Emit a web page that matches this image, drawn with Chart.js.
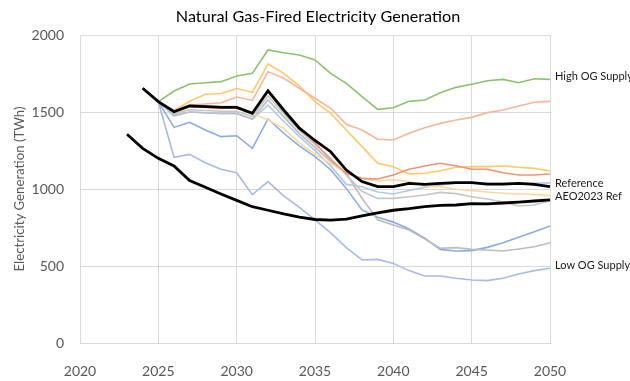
<!DOCTYPE html>
<html>
<head>
<meta charset="utf-8">
<script src="https://cdn.jsdelivr.net/npm/chart.js@4.4.1/dist/chart.umd.min.js"></script>
<style>
  html, body { margin: 0; padding: 0; background: #ffffff; }
  #wrap { width: 630px; height: 381px; }
</style>
</head>
<body>
<div id="wrap"><canvas id="c" width="630" height="381"></canvas></div>
<script>
// ---- Data (TWh) ----
const scenarioYears = [2024,2025,2026,2027,2028,2029,2030,2031,2032,2033,2034,2035,2036,2037,2038,2039,2040,2041,2042,2043,2044,2045,2046,2047,2048,2049,2050];
const aeoYears = [2023,2024,2025,2026,2027,2028,2029,2030,2031,2032,2033,2034,2035,2036,2037,2038,2039,2040,2041,2042,2043,2044,2045,2046,2047,2048,2049,2050];

const aeo2023Ref   = [1355,1264,1199,1150,1055,1011,968,926,885,862,838,818,802,798,805,825,845,862,872,885,894,896,905,903,909,915,922,930];
const reference    = [1654,1567,1502,1539,1535,1530,1530,1491,1638,1513,1395,1315,1242,1123,1048,1015,1015,1037,1030,1037,1041,1041,1032,1032,1037,1030,1015];
const highOGSupply = [1654,1567,1636,1682,1690,1697,1734,1751,1903,1885,1870,1838,1751,1686,1600,1517,1528,1569,1578,1625,1660,1680,1703,1712,1690,1716,1712];
const lowOGSupply  = [1654,1567,1206,1225,1171,1128,1106,963,1048,955,880,800,715,620,539,543,517,470,435,435,420,409,405,420,448,470,485];
const salmonCase   = [1654,1567,1513,1545,1552,1560,1597,1575,1762,1719,1654,1589,1524,1420,1383,1323,1318,1362,1398,1426,1448,1465,1496,1513,1539,1563,1569];
const yellowCase   = [1654,1567,1508,1570,1615,1620,1652,1627,1812,1751,1670,1567,1491,1383,1275,1167,1145,1098,1102,1119,1141,1145,1145,1149,1141,1134,1117];
const orangeCase   = [1654,1567,1505,1542,1540,1535,1535,1495,1636,1515,1400,1300,1190,1102,1069,1065,1091,1128,1149,1167,1151,1128,1128,1106,1091,1091,1097];
const paleCase     = [1654,1567,1500,1535,1530,1525,1525,1491,1448,1394,1300,1225,1165,1105,1069,1052,1060,1048,1019,1015,998,989,981,972,968,965,957];
const grayUpper    = [1654,1567,1490,1515,1510,1505,1505,1470,1604,1490,1380,1290,1200,1090,985,939,939,950,961,978,970,950,935,915,890,896,925];
const grayLower    = [1654,1567,1480,1500,1495,1490,1490,1455,1578,1470,1360,1270,1180,1100,940,800,766,734,676,615,619,608,604,597,610,625,651];
const lightBlue    = [1654,1567,1474,1500,1495,1491,1491,1452,1545,1440,1340,1250,1150,1030,1015,980,968,990,1011,1026,1037,1037,1037,1037,1037,1037,1040];
const mediumBlue   = [1654,1567,1400,1433,1383,1340,1346,1264,1455,1362,1280,1210,1125,1004,864,816,785,740,680,608,597,600,621,651,686,723,760];

const rightLabels = ["High OG Supply", "Reference", "AEO2023 Ref", "Low OG Supply"];
const titleText = "Natural Gas-Fired Electricity Generation";

function pts(xs, ys) { return ys.map((v, i) => ({ x: xs[i], y: v })); }

function ds(label, xs, ys, color, width) {
  return { label, data: pts(xs, ys), borderColor: color, backgroundColor: color,
           borderWidth: width, pointRadius: 0, tension: 0, fill: false };
}

// first dataset is drawn on top
const datasets = [
  ds("AEO2023 Ref", aeoYears, aeo2023Ref, "#000000", 2.8),
  ds("Reference", scenarioYears, reference, "#000000", 2.8),
  ds("Orange", scenarioYears, orangeCase, "#F19474", 1.6),
  ds("High OG Supply", scenarioYears, highOGSupply, "#8DC271", 1.6),
  ds("Salmon", scenarioYears, salmonCase, "#F5B79C", 1.6),
  ds("Yellow", scenarioYears, yellowCase, "#FFC96B", 1.6),
  ds("Pale", scenarioYears, paleCase, "#FDD8A0", 1.6),
  ds("GrayUpper", scenarioYears, grayUpper, "#C6C6C6", 1.6),
  ds("GrayLower", scenarioYears, grayLower, "#BDBDBD", 1.6),
  ds("LightBlue", scenarioYears, lightBlue, "#AFC8EC", 1.6),
  ds("MediumBlue", scenarioYears, mediumBlue, "#8AACE3", 1.6),
  ds("Low OG Supply", scenarioYears, lowOGSupply, "#A7BBE6", 1.6)
];

const labelPlugin = {
  id: "rightLabels",
  afterDraw(chart) {
    const ctx = chart.ctx;
    const ys = chart.scales.y;
    const area = chart.chartArea;
    const map = {
      "High OG Supply": highOGSupply,
      "Reference": reference,
      "AEO2023 Ref": aeo2023Ref,
      "Low OG Supply": lowOGSupply
    };
    ctx.save();
    ctx.font = "11px Lato";
    ctx.fillStyle = "#1a1a1a";
    ctx.textBaseline = "middle";
    ctx.textAlign = "left";
    rightLabels.forEach(name => {
      const arr = map[name];
      const v = arr[arr.length - 1];
      ctx.fillText(name, area.right + 5, ys.getPixelForValue(v) - 3);
    });
    // title centred over the plot area
    ctx.font = "16.2px Lato";
    ctx.fillStyle = "#000000";
    ctx.textAlign = "center";
    ctx.fillText(titleText, (area.left + area.right) / 2 + 3, 17);
    ctx.restore();
  }
};

new Chart(document.getElementById("c"), {
  type: "line",
  data: { datasets },
  options: {
    responsive: false,
    animation: false,
    layout: { padding: { left: 0, right: 80, top: 0, bottom: 0 } },
    plugins: {
      legend: { display: false },
      tooltip: { enabled: false },
      title: {
        display: true,
        text: titleText,
        color: "rgba(0,0,0,0)",
        font: { family: "Lato", size: 16, weight: "normal" },
        padding: { top: 7, bottom: 8.8 }
      }
    },
    scales: {
      x: {
        type: "linear",
        min: 2020, max: 2050,
        ticks: { stepSize: 5, color: "#595959", font: { family: "Lato", size: 14 }, padding: 20,
                 callback: v => String(v) },
        grid: { color: "#D9D9D9", drawTicks: false },
        border: { color: "#D9D9D9" },
        afterFit(scale) { scale.height = 38; }
      },
      y: {
        min: 0, max: 2000,
        ticks: { stepSize: 500, color: "#595959", font: { family: "Lato", size: 14 }, padding: 16,
                 callback: v => String(v) },
        grid: { color: "#D9D9D9", drawTicks: false },
        border: { display: false },
        title: { display: true, text: "Electricity Generation (TWh)", color: "#595959",
                 font: { family: "Lato", size: 13.2 }, padding: { top: 12, bottom: 0 } },
        afterFit(scale) { scale.width = 80; }
      }
    }
  },
  plugins: [labelPlugin]
});
</script>
</body>
</html>
